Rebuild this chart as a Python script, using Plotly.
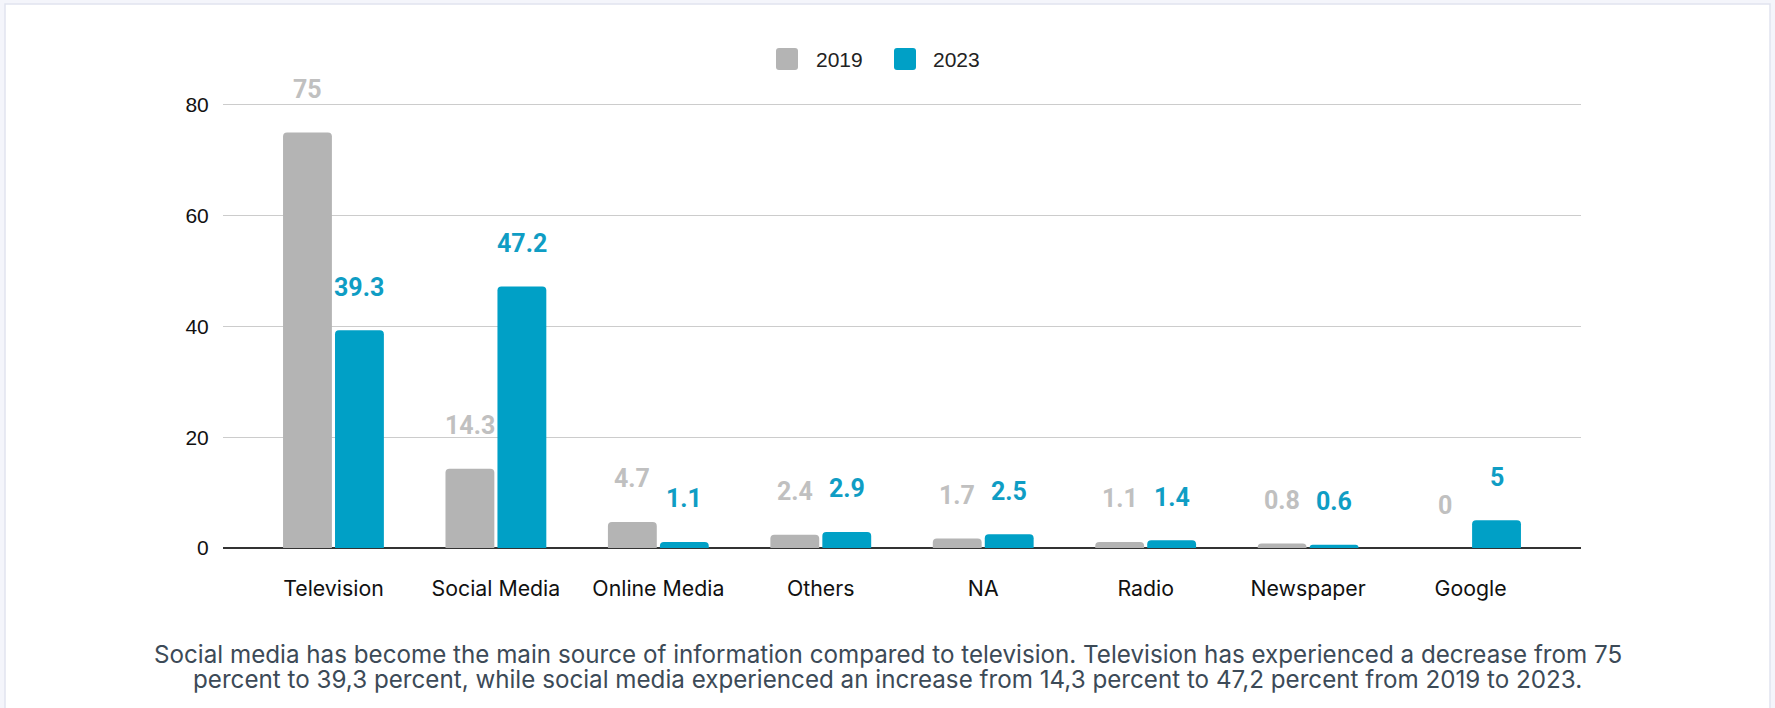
import plotly.graph_objects as go

# --- data ---------------------------------------------------------------
categories = ["Television", "Social Media", "Online Media", "Others",
              "NA", "Radio", "Newspaper", "Google"]
values_2019 = [75, 14.3, 4.7, 2.4, 1.7, 1.1, 0.8, 0]
values_2023 = [39.3, 47.2, 1.1, 2.9, 2.5, 1.4, 0.6, 5]
series_names = ["2019", "2023"]
y_ticks = [0, 20, 40, 60, 80]
caption_lines = [
    "Social media has become the main source of information compared to television. "
    "Television has experienced a decrease from 75",
    "percent to 39,3 percent, while social media experienced an increase from 14,3 "
    "percent to 47,2 percent from 2019 to 2023.",
]

# --- styling ------------------------------------------------------------
W, H = 1775, 708
M_L, M_R, M_T, M_B = 223, 194, 77, 160
PLOT_W = W - M_L - M_R
PLOT_H = H - M_T - M_B
bar_colors = ["#b4b4b4", "#00a0c6"]
label_colors = ["#c0c0c0", "#0f9dc4"]
BARGAP = 0.36
BARGROUPGAP = 0.06


def px_x(px):
    """Page pixel x -> paper coordinate."""
    return (px - M_L) / PLOT_W


def px_y(py):
    """Page pixel y (from top) -> paper coordinate."""
    return 1 - (py - M_T) / PLOT_H


def rounded_rect(x0, y0, x1, y1, r):
    """SVG path (paper coords) for a rectangle given in page pixels."""
    X = lambda v: px_x(v)
    Y = lambda v: px_y(v)
    return (
        f"M{X(x0 + r)},{Y(y0)} L{X(x1 - r)},{Y(y0)} Q{X(x1)},{Y(y0)} {X(x1)},{Y(y0 + r)} "
        f"L{X(x1)},{Y(y1 - r)} Q{X(x1)},{Y(y1)} {X(x1 - r)},{Y(y1)} "
        f"L{X(x0 + r)},{Y(y1)} Q{X(x0)},{Y(y1)} {X(x0)},{Y(y1 - r)} "
        f"L{X(x0)},{Y(y0 + r)} Q{X(x0)},{Y(y0)} {X(x0 + r)},{Y(y0)} Z"
    )


series_values = [values_2019, values_2023]

fig = go.Figure()
for name, vals, col in zip(series_names, series_values, bar_colors):
    fig.add_trace(go.Bar(
        x=categories, y=vals, name=name,
        marker=dict(color=col, cornerradius=4, line=dict(width=0)),
        showlegend=False,
    ))

annotations = []
slot = (1 - BARGAP) / 2
for s, (vals, lc) in enumerate(zip(series_values, label_colors)):
    offset = (s - 0.5) * slot
    for i, v in enumerate(vals):
        annotations.append(dict(
            x=i + offset, y=v, xref="x", yref="y",
            text=f"{v:g}", showarrow=False, yshift=43, yanchor="middle",
            font=dict(family="Roboto", size=25, color=lc, weight="bold"),
        ))

# legend: rounded swatches with labels
legend_items = [(776, 814), (894, 931)]
shapes = [
    # card background with thin border
    dict(type="rect", xref="paper", yref="paper", layer="below",
         x0=px_x(5), x1=px_x(1770), y0=px_y(4), y1=px_y(720),
         fillcolor="white", line=dict(color="#e1e4ef", width=1.5)),
]
for (sx, tx), name, col in zip(legend_items, series_names, bar_colors):
    shapes.append(dict(type="path", xref="paper", yref="paper",
                       path=rounded_rect(sx, 48, sx + 22, 70, 3),
                       fillcolor=col, line=dict(width=0)))
    annotations.append(dict(
        x=px_x(tx), y=px_y(59), xref="paper", yref="paper",
        text=name, showarrow=False, xanchor="left", yanchor="middle",
        font=dict(family="Liberation Sans, Arial", size=21, color="#222222"),
    ))

for line, py in zip(caption_lines, [654, 679]):
    annotations.append(dict(
        x=px_x(W / 2), y=px_y(py), xref="paper", yref="paper",
        text=line, showarrow=False, xanchor="center", yanchor="middle",
        font=dict(family="Inter", size=24.2, color="#3c4a57"),
    ))

fig.update_layout(
    width=W, height=H,
    margin=dict(l=M_L, r=M_R, t=M_T, b=M_B, pad=0),
    paper_bgcolor="#f4f5fb",
    plot_bgcolor="white",
    barmode="group", bargap=BARGAP, bargroupgap=BARGROUPGAP,
    shapes=shapes, annotations=annotations,
    showlegend=False,
    xaxis=dict(
        type="category", range=[-0.68, 7.68], showgrid=False, showline=False,
        ticks="outside", ticklen=21, tickcolor="rgba(0,0,0,0)",
        tickfont=dict(family="Inter", size=21.3, color="#111111"),
    ),
    yaxis=dict(
        range=[0, 85], tickvals=y_ticks, showgrid=True, gridcolor="#cccccc",
        gridwidth=1, zeroline=True, zerolinecolor="#333333", zerolinewidth=2,
        showline=False, ticks="outside", ticklen=9, tickcolor="rgba(0,0,0,0)",
        tickfont=dict(family="Liberation Sans, Arial", size=21, color="#111111"),
    ),
)

fig.write_html("out.html")
